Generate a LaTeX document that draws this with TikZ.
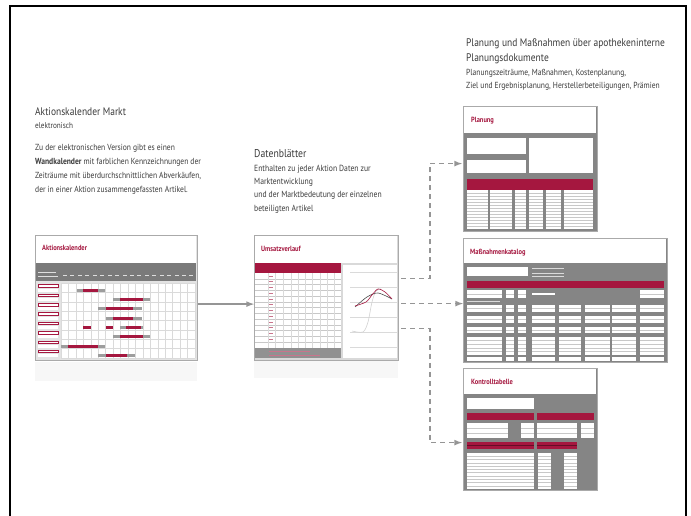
\documentclass[tikz,border=0pt]{standalone}
\usepackage{fontspec}
\setmainfont{PT Sans}[FakeStretch=0.86]
\usepackage{tikz}
\tikzset{>=latex}
\definecolor{kred}{HTML}{A5173F}
\definecolor{kgray}{HTML}{858585}
\definecolor{kdark}{HTML}{7A7A7A}
\definecolor{kframe}{HTML}{AAAAAA}
\definecolor{ktext}{HTML}{3A3A3A}
\definecolor{karrow}{HTML}{959595}
\tikzset{
    thumb/.style={draw=kframe,line width=1.2pt,fill=kgray,inner sep=0pt,anchor=north west},
    thumbtitle/.style={anchor=base west,inner sep=0pt,text=kred,font=\fontsize{7.5}{8}\selectfont\bfseries},
    heading/.style={anchor=north west,inner sep=0pt,text=ktext,align=left},
    rowline/.style={draw=kgray!45,line width=0.4pt},
    gridline/.style={draw=kgray!30,line width=0.3pt},
    solidarrow/.style={->,draw=karrow,line width=1.6pt},
    dasharrow/.style={->,draw=karrow,line width=1.6pt,dash pattern=on 5pt off 4pt}
}
% white box with N ruled lines
\newcommand\rowbox[5]{
    \fill[white] (#1,#2) rectangle (#3,#4);
    \foreach \k in {1,...,#5}
        \draw[rowline] (#1,{#2+(#4-#2)*\k/(#5+1)}) -- (#3,{#2+(#4-#2)*\k/(#5+1)});
}

\begin{document}
\begin{tikzpicture}[x=1pt,y=-1pt]
    \useasboundingbox (0,0) rectangle (691,516);
    \draw[line width=2pt] (10,516) -- (10,6) -- (686,6) -- (686,516);

    % texts
    \node[heading,font=\fontsize{11}{15}\selectfont] (titel) at (466,39)
        {Planung und Maßnahmen über apothekeninterne\\Planungsdokumente};
    \node[heading,font=\fontsize{8.8}{13}\selectfont] (untertitel) at (466,69.5)
        {Planungszeiträume, Maßnahmen, Kostenplanung,\\Ziel und Ergebnisplanung, Herstellerbeteiligungen, Prämien};
    \node[heading,font=\fontsize{11}{13}\selectfont] (akhead) at (35,107) {Aktionskalender Markt};
    \node[heading,font=\fontsize{8.4}{13}\selectfont] (aksub) at (35,122) {elektronisch};
    \node[heading,font=\fontsize{8.8}{14}\selectfont] (aktext) at (35,143.7)
        {Zu der elektronischen Version gibt es einen\\
         \textbf{Wandkalender} mit farblichen Kennzeichnungen der\\
         Zeiträume mit überdurchschnittlichen Abverkäufen,\\
         der in einer Aktion zusammengefassten Artikel.};
    \node[heading,font=\fontsize{11.3}{13}\selectfont] (dbhead) at (254,149) {Datenblätter};
    \node[heading,font=\fontsize{8.9}{13.3}\selectfont] (dbtext) at (254,164.6)
        {Enthalten zu jeder Aktion Daten zur\\Marktentwicklung\\und der Marktbedeutung der einzelnen\\beteiligten Artikel};

    % Aktionskalender
    \fill[gray!6] (35,362) rectangle (197,381);
    \node[thumb,fill=gray!22,minimum width=162pt,minimum height=125pt] (kal) at (35,235) {};
    \fill[white] (36,236) rectangle (196,263);
    \node[thumbtitle] (kaltitle) at (42,250) {Aktionskalender};
    \fill[kdark] (36,263) rectangle (196,281);
    \foreach \i in {0,...,17}
        \fill[white!75!kdark] ({63+\i*7.44},275) rectangle +(4,1);
    \fill[white!75!kdark] (38,272) rectangle (56,273);
    \fill[white!75!kdark] (38,276) rectangle (58,277);
    \fill[white] (61,283) rectangle (195,358);
    \foreach \i in {0,...,18}
        \draw[gridline] ({61+\i*7.44},283) -- ({61+\i*7.44},358);
    \foreach \j in {0,...,8}
        \draw[gridline] (61,{283+\j*9.375}) -- (195,{283+\j*9.375});
    \foreach \j in {0,...,7} {
        \draw[kred,fill=white,line width=0.5pt] (38,{284.5+\j*9.375}) rectangle (58,{287+\j*9.375});
        \fill[white] (38,{288.5+\j*9.375}) rectangle (58,{291.5+\j*9.375});
    }
    \foreach \r/\ga/\gb/\ra/\rb in {0/77/105/83/98,1/113/150/120/143,2/98/142/106/133,
            3/106/142/113/133,4/120/143/126/141,5/113/150/120/143,6/61/105/68/98,7/98/135/106/127} {
        \fill[kgray!80] (\ga,{288.5+\r*9.375}) rectangle (\gb,{291.5+\r*9.375});
        \fill[kred] (\ra,{288.5+\r*9.375}) rectangle (\rb,{291.5+\r*9.375});
    }
    \fill[kred] (83,326) rectangle (91,329);
    \fill[kred] (106,326) rectangle (113,329);

    % Umsatzverlauf
    \fill[gray!6] (254,361) rectangle (398,378);
    \node[thumb,fill=gray!30,minimum width=144pt,minimum height=125pt] (ums) at (254,235) {};
    \fill[white] (255,236) rectangle (397,263);
    \node[thumbtitle] (umstitle) at (261,251) {Umsatzverlauf};
    \fill[kred] (255,263) rectangle (341,273);
    \rowbox{255}{273}{341}{348}{12}
    \foreach \xx in {268,275,283,291,298,305,312,320,327,334}
        \draw[gridline] (\xx,273) -- (\xx,348);
    \foreach \j in {0,...,11}
        \fill[kred!60] (269,{275.5+\j*5.77}) rectangle +(4,1);
    \fill[kgray!90] (255,348) rectangle (341,358);
    \fill[kred!60] (269,351) rectangle (310,352);
    \fill[kred!60] (269,355) rectangle (320,356);
    \fill[white] (343,265) rectangle (397,358);
    \foreach \yy in {272,287,302,317,332,347}
        \draw[gridline] (350,\yy) -- (397,\yy);
    \draw[gray!35,line width=0.6pt] plot[smooth] coordinates {(352,331) (363,332) (368,322) (372,302) (376,291) (381,289)};
    \draw[black!70,line width=0.6pt] plot[smooth] coordinates {(355,307) (367,297) (378,293) (392,299)};
    \draw[kred,line width=0.6pt] plot[smooth] coordinates {(355,306) (366,302) (372,295) (378,289) (385,292) (392,299)};

    % Planung
    \node[thumb,minimum width=134pt,minimum height=125pt] (plan) at (463,106) {};
    \fill[white] (464,107) rectangle (596,133);
    \node[thumbtitle] (plantitle) at (471,123) {Planung};
    \fill[white] (467,138) rectangle (526,154);
    \fill[white] (467,160) rectangle (526,173);
    \fill[white] (529,138) rectangle (593,173);
    \fill[kred] (467,179) rectangle (593,190);
    \foreach \xa/\xb in {467/487.5,490/512,515/526,529/543,545.5/561,563.5/593}
        {\rowbox{\xa}{190}{\xb}{229}{12}}

    % Massnahmenkatalog
    \node[thumb,minimum width=204pt,minimum height=124pt] (mass) at (463,238) {};
    \fill[white] (464,239) rectangle (666,263);
    \node[thumbtitle] (masstitle) at (470,254) {Maßnahmenkatalog};
    \fill[white] (467,267) rectangle (528,276);
    \foreach \yy in {268,273,276}
        \fill[white!70!kgray] (532,\yy) rectangle +(32,0.8);
    \fill[kred] (467,281) rectangle (664,288);
    \foreach \xa/\xb in {467/502,506/514,518/526,640/664}
        {\rowbox{\xa}{290}{\xb}{298}{1}}
    \fill[white] (532,293) rectangle (555,295);
    \fill[white!70!kgray] (467,301) rectangle (500,302);
    \foreach \ya/\yb/\n in {305/312/1,316/323/1,327/333/1,337/355/4} {
        \foreach \xa/\xb in {467/502,506/514,518/526,532/555,559/581,585/610,612/636,640/664}
            {\rowbox{\xa}{\ya}{\xb}{\yb}{\n}}
    }
    \fill[white] (467,357) rectangle (502,361);
    \foreach \xa/\xb in {506/514,518/526,532/555,559/581,585/610,612/636,640/664}
        \fill[white] (\xa,357) rectangle (\xb,361);

    % Kontrolltabelle
    \node[thumb,minimum width=134pt,minimum height=122pt] (kontr) at (463,368) {};
    \fill[white] (464,369) rectangle (596,394);
    \node[thumbtitle] (kontrtitle) at (471,384) {Kontrolltabelle};
    \fill[white] (467,398) rectangle (534,409);
    \fill[kred] (467,413) rectangle (534,420);
    \fill[kred] (536.5,413) rectangle (594,420);
    \foreach \xa/\xb in {467/507.5,520.5/534,536.5/577,581/594}
        {\rowbox{\xa}{423}{\xb}{438}{2}}
    \fill[kred] (467,442) rectangle (534,449);
    \draw[kred!60!black,line width=0.4pt] (467,445.5) -- (534,445.5);
    \fill[kred] (536.5,442) rectangle (577,449);
    \draw[kred!60!black,line width=0.4pt] (536.5,445.5) -- (577,445.5);
    \foreach \xa/\xb in {467/534,537.5/551,564/577}
        {\rowbox{\xa}{453}{\xb}{489}{10}}

    % connectors
    \coordinate (a1) at ([yshift=-6pt]kal.east);
    \draw[solidarrow] (a1) -- (a1 -| ums.west);
    \coordinate (d1) at ([xshift=2pt,yshift=19.5pt]ums.east);
    \coordinate (d2) at ([xshift=2pt,yshift=-5.5pt]ums.east);
    \coordinate (d3) at ([xshift=2pt,yshift=-30.5pt]ums.east);
    \coordinate (t1) at ([xshift=-1pt,yshift=5.5pt]plan.west);
    \coordinate (t3) at ([xshift=-1pt,yshift=-13pt]kontr.west);
    \draw[dasharrow] (d1) -| ([xshift=-32pt]t1) -- (t1);
    \draw[dasharrow] (d2) -- (d2 -| mass.west);
    \draw[dasharrow] (d3) -| ([xshift=-32pt]t3) -- (t3);
\end{tikzpicture}
\end{document}
